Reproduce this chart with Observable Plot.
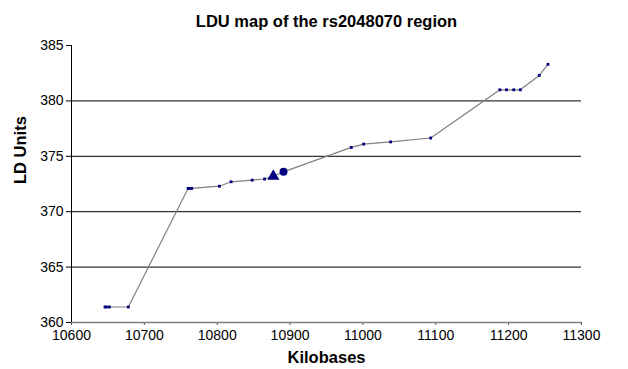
<!DOCTYPE html>
<html>
<head>
<meta charset="utf-8">
<script src="https://cdn.jsdelivr.net/npm/d3@7"></script>
<script src="https://cdn.jsdelivr.net/npm/@observablehq/plot@0.6"></script>
<style>
  html, body { margin: 0; padding: 0; background: #fff; }
  #chart { width: 628px; height: 369px; }
</style>
</head>
<body>
<div id="chart"></div>
<script>
const title = "LDU map of the rs2048070 region";
const xLabel = "Kilobases";
const yLabel = "LD Units";

const kilobases = [10646, 10648, 10652, 10678, 10760, 10762, 10765, 10803, 10819, 10848, 10865, 10877, 10891, 10984, 11001, 11038, 11093, 11188, 11197, 11207, 11216, 11242, 11254];
const lduUnits  = [361.4, 361.4, 361.4, 361.4, 372.1, 372.1, 372.1, 372.3, 372.7, 372.85, 372.95, 373.2, 373.6, 375.8, 376.1, 376.3, 376.65, 381.0, 381.0, 381.0, 381.0, 382.3, 383.3];
const markerType = ["dot","dot","dot","dot","dot","dot","dot","dot","dot","dot","dot","triangle","circle","dot","dot","dot","dot","dot","dot","dot","dot","dot","dot"];

const xTicks = [10600, 10700, 10800, 10900, 11000, 11100, 11200, 11300];
const yTicks = [360, 365, 370, 375, 380, 385];
const gridValues = [365, 370, 375, 380];

const data = kilobases.map((k, i) => ({k, u: lduUnits[i], m: markerType[i]}));

const chart = Plot.plot({
  width: 628,
  height: 369,
  marginLeft: 71,
  marginRight: 47,
  marginTop: 45,
  marginBottom: 47,
  style: {fontFamily: "'Liberation Sans', Arial, sans-serif", fontSize: "14px", color: "#000", background: "#fff"},
  x: {domain: [10600, 11300]},
  y: {domain: [360, 385]},
  marks: [
    Plot.ruleY(gridValues, {stroke: "#000", strokeWidth: 1}),
    Plot.axisX({ticks: xTicks, tickSize: 3, tickPadding: 5, tickFormat: d => String(d), label: null, stroke: "#555", fontSize: 14}),
    Plot.axisY({ticks: yTicks, tickSize: 5, tickPadding: 3, tickFormat: d => String(d), label: null, stroke: "#000", fontSize: 14}),
    Plot.ruleY([360], {stroke: "#808080", strokeWidth: 1.5}),
    Plot.ruleX([10600], {stroke: "#000", strokeWidth: 1}),
    Plot.line(data, {x: "k", y: "u", stroke: "#808080", strokeWidth: 1.2}),
    Plot.dot(data.filter(d => d.m === "dot"), {x: "k", y: "u", symbol: "square", r: 1.6, fill: "#000080", stroke: "none"}),
    Plot.dot(data.filter(d => d.m === "triangle"), {x: "k", y: "u", symbol: "triangle", r: 4.5, fill: "#000080", stroke: "none"}),
    Plot.dot(data.filter(d => d.m === "circle"), {x: "k", y: "u", symbol: "circle", r: 4, fill: "#000080", stroke: "none"}),
    Plot.text([title], {frameAnchor: "top", dy: -24, lineAnchor: "middle", fontWeight: "bold", fontSize: 16.5, fill: "#000"}),
    Plot.text([xLabel], {frameAnchor: "bottom", dy: 35, lineAnchor: "middle", fontWeight: "bold", fontSize: 16.5, fill: "#000"}),
    Plot.text([yLabel], {frameAnchor: "left", dx: -51, rotate: -90, lineAnchor: "middle", fontWeight: "bold", fontSize: 16.5, fill: "#000"})
  ]
});
document.getElementById("chart").appendChild(chart);
</script>
</body>
</html>
